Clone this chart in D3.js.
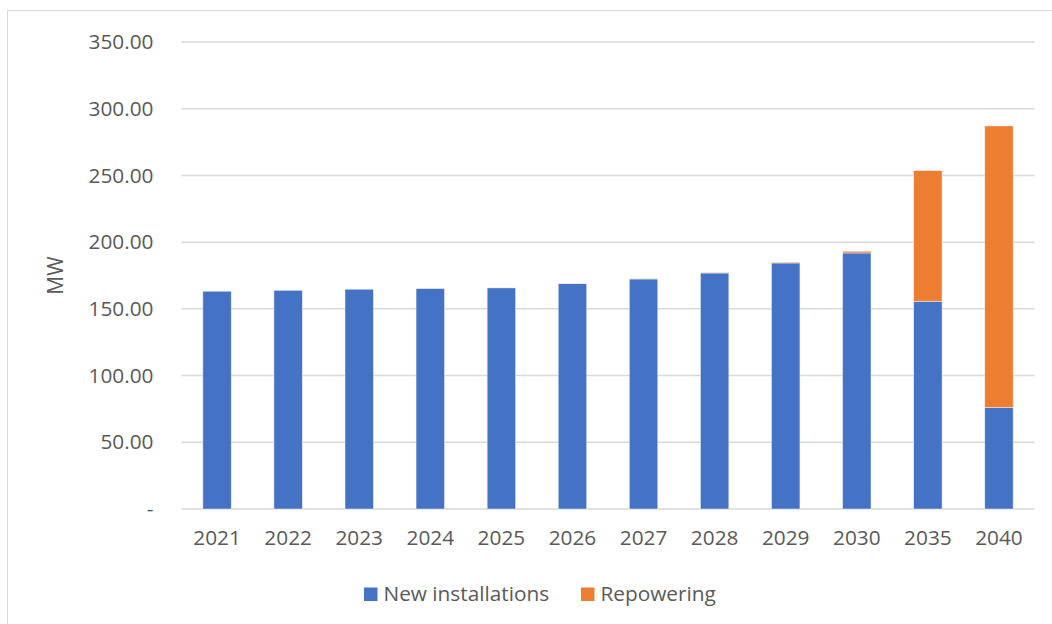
<!DOCTYPE html>
<html>
<head>
<meta charset="utf-8">
<script src="https://cdn.jsdelivr.net/npm/d3@7/dist/d3.min.js"></script>
<style>
  html, body { margin: 0; padding: 0; background: #fff; }
  svg { display: block; font-family: "Open Sans", "Noto Sans", sans-serif; }
</style>
</head>
<body>
<svg id="chart" width="1052" height="624"></svg>
<script>
// Annual capacity (MW) by year
const years = ["2021", "2022", "2023", "2024", "2025", "2026", "2027", "2028", "2029", "2030", "2035", "2040"];
const newInstallations = [163.2, 163.9, 164.7, 165.2, 165.7, 168.9, 172.4, 176.9, 184.4, 191.9, 155.7, 76.2];
const repowering = [0, 0, 0, 0, 0, 0.2, 0.3, 0.4, 0.6, 1.3, 97.9, 210.9];
const seriesNames = ["New installations", "Repowering"];
const seriesColors = ["#4472C4", "#ED7D31"];
const yTicks = [0, 50, 100, 150, 200, 250, 300, 350];

const svg = d3.select("#chart");
const W = 1052, H = 624;
const margin = { left: 181.5, right: 1052 - 1034.5, top: 42, bottom: 624 - 509 };
const labelFont = "20.8px";

// outer frame of the chart area
svg.append("rect")
  .attr("x", 7.5).attr("y", 10.5)
  .attr("width", W + 10).attr("height", H + 10)
  .attr("fill", "#fff").attr("stroke", "#d9d9d9").attr("stroke-width", 1);

const x = d3.scaleBand()
  .domain(years)
  .range([margin.left, W - margin.right])
  .paddingInner(0.6)
  .paddingOuter(0.3);

const y = d3.scaleLinear()
  .domain([0, 350])
  .range([H - margin.bottom, margin.top]);

// horizontal gridlines
svg.append("g")
  .selectAll("line")
  .data(yTicks)
  .join("line")
  .attr("x1", margin.left).attr("x2", W - margin.right)
  .attr("y1", d => y(d)).attr("y2", d => y(d))
  .attr("stroke", "#d9d9d9").attr("stroke-width", 1.5);

// y axis labels
const yAxis = d3.axisLeft(y)
  .tickValues(yTicks)
  .tickSize(0)
  .tickPadding(28)
  .tickFormat(d => d === 0 ? "-" : d3.format(".2f")(d));
svg.append("g")
  .attr("transform", `translate(${margin.left},0)`)
  .call(yAxis)
  .call(g => g.select(".domain").remove())
  .call(g => g.selectAll("text")
    .attr("fill", "#595959")
    .style("font-size", labelFont)
    .style("font-family", "'Open Sans', sans-serif"));

// x axis labels
const xAxis = d3.axisBottom(x).tickSize(0).tickPadding(21);
svg.append("g")
  .attr("transform", `translate(0,${y(0)})`)
  .call(xAxis)
  .call(g => g.select(".domain").remove())
  .call(g => g.selectAll("text")
    .attr("fill", "#595959")
    .style("font-size", labelFont)
    .style("font-family", "'Open Sans', sans-serif"));

// stacked bars
const rows = years.map((yr, i) => ({ year: yr, a: newInstallations[i], b: repowering[i] }));
const stack = d3.stack().keys(["a", "b"])(rows);

svg.append("g")
  .selectAll("g")
  .data(stack)
  .join("g")
  .attr("fill", (d, i) => seriesColors[i])
  .selectAll("rect")
  .data(d => d)
  .join("rect")
  .attr("x", d => x(d.data.year))
  .attr("width", x.bandwidth())
  .attr("y", d => y(d[1]))
  .attr("height", d => y(d[0]) - y(d[1]))
  .attr("stroke", "#ffffff")
  .attr("stroke-opacity", 0.6)
  .attr("stroke-width", 0.75);

// y axis title
svg.append("text")
  .attr("transform", `translate(63,${(y(0) + y(350)) / 2}) rotate(-90)`)
  .attr("text-anchor", "middle")
  .attr("fill", "#595959")
  .style("font-size", "21px")
  .text("MW");

// legend
const legendItems = [
  { name: seriesNames[0], color: seriesColors[0], x: 364 },
  { name: seriesNames[1], color: seriesColors[1], x: 581 }
];
const lg = svg.append("g");
legendItems.forEach(it => {
  lg.append("rect")
    .attr("x", it.x).attr("y", 587.5)
    .attr("width", 13.5).attr("height", 13.5)
    .attr("fill", it.color);
  lg.append("text")
    .attr("x", it.x + 19.5).attr("y", 601)
    .attr("fill", "#595959")
    .style("font-size", labelFont)
    .text(it.name);
});
</script>
</body>
</html>
